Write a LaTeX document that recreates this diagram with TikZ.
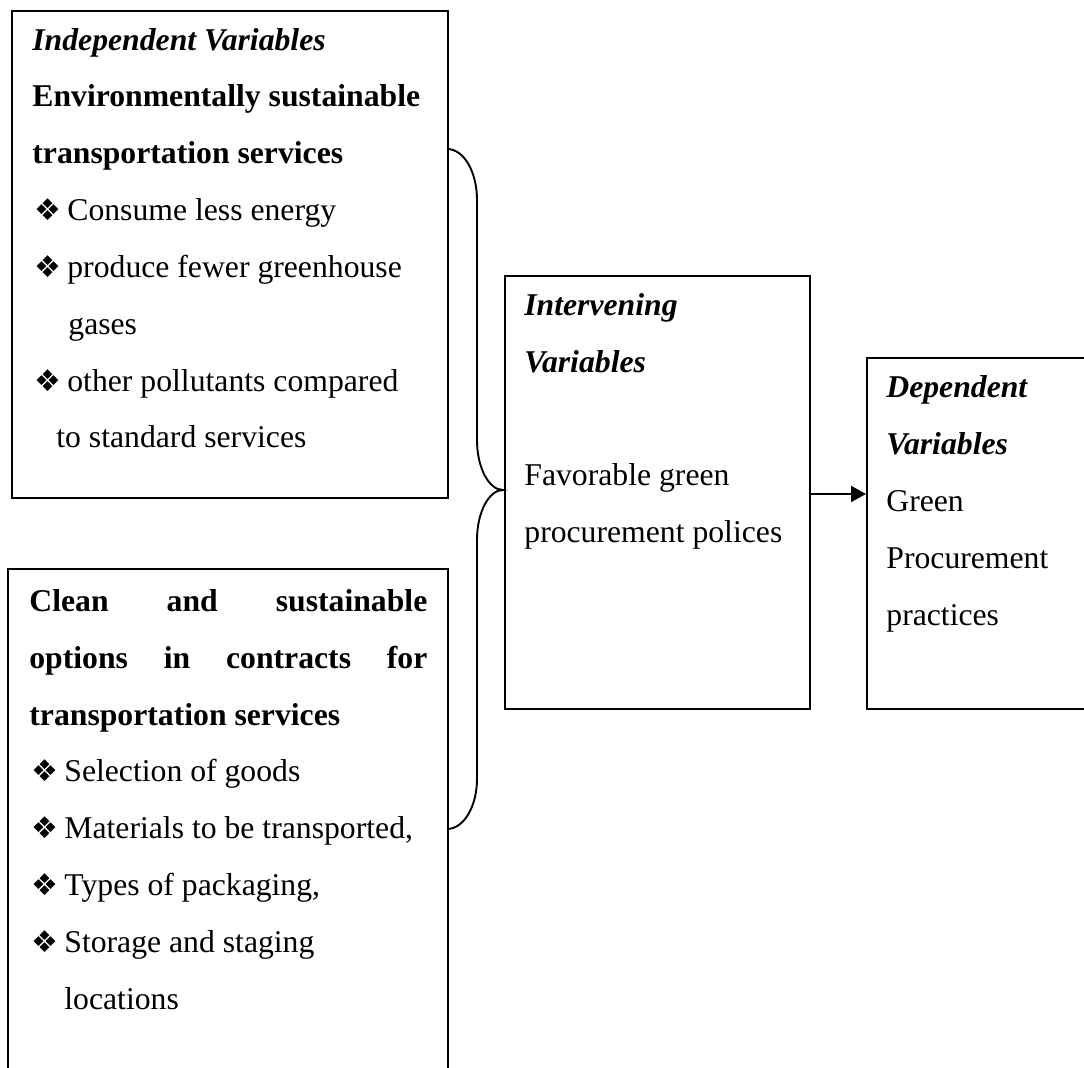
\documentclass[tikz,border=0pt]{standalone}
\usepackage{fontspec}
\setmainfont{Liberation Serif}
\newfontfamily\dingfont{DejaVu Sans}
\usetikzlibrary{arrows.meta}
\newcommand{\bul}{\makebox[16.5pt][l]{\dingfont\fontsize{15}{15}\selectfont ❖}} % diamond bullet

\begin{document}
\begin{tikzpicture}[
    x=0.5pt, y=-0.5pt, % one unit per pixel of the layout
    box/.style={draw, line width=0.95pt, anchor=north west, inner sep=0pt}, % Style for the variable boxes
    txt/.style={anchor=base west, inner sep=0pt, font=\fontsize{15.85}{19}\selectfont}, % Plain text line
    head/.style={txt, font=\fontsize{15.85}{19}\selectfont\bfseries\itshape}, % Box heading
    boldtxt/.style={txt, font=\fontsize{15.85}{19}\selectfont\bfseries}, % Bold text line
    flow/.style={-{Triangle[length=7.5pt, width=8pt]}, line width=1.1pt}, % Style for the arrow
    brace/.style={line width=0.95pt} % Style for the curly brace
  ]

  \useasboundingbox (0,0) rectangle (1084,1068);

  % --- Boxes ---
  \node[box, minimum width=218pt, minimum height=243.5pt] (indep) at (11,10) {};  % Independent variables
  \node[box, minimum width=220pt, minimum height=260pt] (clean) at (7,568) {};    % Clean options (runs off the page)
  \node[box, minimum width=152.5pt, minimum height=216.5pt] (interv) at (504,275) {}; % Intervening variables
  \node[box, minimum width=125pt, minimum height=175.5pt] (dep) at (866,357) {};  % Dependent variables (runs off the page)

  % --- Independent box text ---
  \node[head] (i1) at (32,51) {Independent Variables};
  \node[boldtxt] (i2) at (32,107) {Environmentally sustainable};
  \node[boldtxt] (i3) at (32,164) {transportation services};
  \node[txt] (i4) at (34,221) {\bul Consume less energy};
  \node[txt] (i5) at (34,278) {\bul produce fewer greenhouse};
  \node[txt] (i6) at (68,335) {gases};
  \node[txt] (i7) at (34,392) {\bul other pollutants compared};
  \node[txt] (i8) at (56,448) {to standard services};

  % --- Clean options box text ---
  \node[boldtxt] (c1) at (29,612) {\makebox[199pt][s]{Clean and sustainable}};
  \node[boldtxt] (c2) at (29,669) {\makebox[199pt][s]{options in contracts for}};
  \node[boldtxt] (c3) at (29,726) {transportation services};
  \node[txt] (c4) at (31,782) {\bul Selection of goods};
  \node[txt] (c5) at (31,839) {\bul Materials to be transported,};
  \node[txt] (c6) at (31,896) {\bul Types of packaging,};
  \node[txt] (c7) at (31,953) {\bul Storage and staging};
  \node[txt] (c8) at (64,1010) {locations};

  % --- Intervening box text ---
  \node[head] (m1) at (524,316) {Intervening};
  \node[head] (m2) at (524,373) {Variables};
  \node[txt] (m3) at (524,486) {Favorable green};
  \node[txt] (m4) at (524,543) {procurement polices};

  % --- Dependent box text ---
  \node[head] (d1) at (886,398) {Dependent};
  \node[head] (d2) at (886,455) {Variables};
  \node[txt] (d3) at (886,512) {Green};
  \node[txt] (d4) at (886,569) {Procurement};
  \node[txt] (d5) at (886,626) {practices};

  % --- Curly brace joining both independent boxes ---
  \coordinate (brace top) at (447,149);
  \coordinate (brace tip) at (503,490);
  \coordinate (brace bottom) at (447,829);
  \draw[brace] (brace top) .. controls (464,149) and (477,172) .. (477,200)
    -- (477,440) .. controls (477,468) and (489,490) .. (brace tip)
    .. controls (489,490) and (477,512) .. (477,540)
    -- (477,779) .. controls (477,806) and (464,829) .. (brace bottom);

  % --- Arrow to the dependent box ---
  \coordinate (arrow row) at (0,494);
  \draw[flow] (interv.east |- arrow row) -- (dep.west |- arrow row);

\end{tikzpicture}
\end{document}
